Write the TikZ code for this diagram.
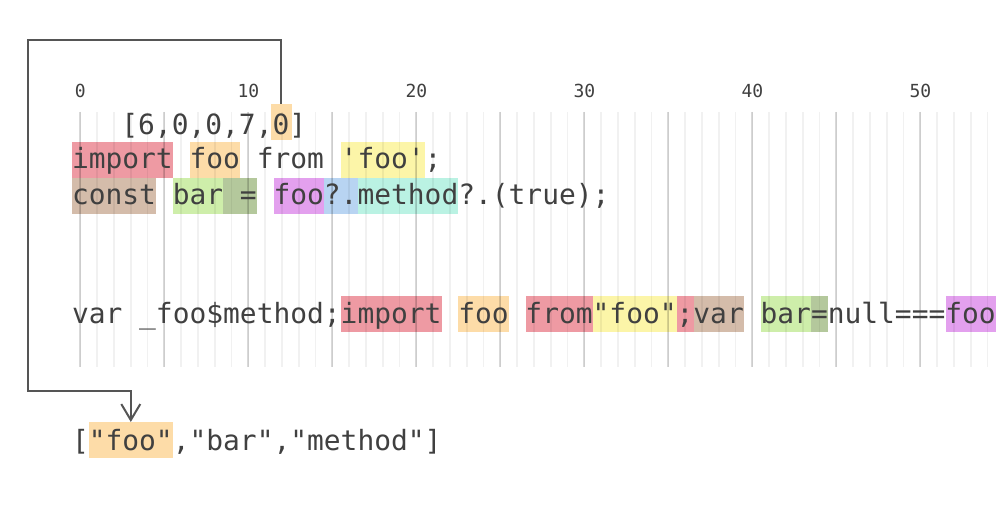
\documentclass[tikz,border=0pt]{standalone}
\usepackage{fontspec}
\setmonofont{DejaVu Sans Mono}
\usetikzlibrary{arrows.meta}
\definecolor{hred}{RGB}{238,154,163}
\definecolor{horange}{RGB}{253,220,168}
\definecolor{hyellow}{RGB}{252,245,168}
\definecolor{htan}{RGB}{212,188,170}
\definecolor{hlgreen}{RGB}{206,238,170}
\definecolor{hdgreen}{RGB}{180,200,156}
\definecolor{hpurple}{RGB}{227,160,238}
\definecolor{hblue}{RGB}{184,212,242}
\definecolor{hteal}{RGB}{186,242,227}
\definecolor{ink}{RGB}{64,64,64}
\definecolor{wire}{RGB}{85,85,85}
\tikzset{
  code/.style={inner sep=0pt, outer sep=0pt, anchor=base west, text=ink, font=\fontsize{27.9}{36}\selectfont\ttfamily},
  tick/.style={inner sep=0pt, outer sep=0pt, anchor=base, text=ink, font=\fontsize{18}{18}\selectfont\ttfamily},
  hlbox/.style={inner sep=0pt, outer sep=0pt, anchor=north west, minimum height=36pt, draw=none},
  conn/.style={draw=wire, line width=2pt, -{Straight Barb[length=16pt,width=19pt,line width=2pt]}},
  minorline/.style={draw=black, draw opacity=0.055, line width=1.5pt},
  majorline/.style={draw=black, draw opacity=0.15, line width=2pt}
}
\newcommand{\hlc}[5]{\fill[#1] ({72+16.8*#2},#4) rectangle ({72+16.8*#3},#5);}
\begin{document}
\begin{tikzpicture}[x=1pt,y=-1pt]
\useasboundingbox (0,0) rectangle (996,518);
\fill[white] (0,0) rectangle (996,518);

% highlights line 1
\hlc{hred}{0}{6}{142}{178}
\hlc{horange}{7}{10}{142}{178}
\hlc{hyellow}{16}{21}{142}{178}
% line 2
\hlc{htan}{0}{5}{178}{214}
\hlc{hlgreen}{6}{9}{178}{214}
\hlc{hdgreen}{9}{11}{178}{214}
\hlc{hpurple}{12}{15}{178}{214}
\hlc{hblue}{15}{17}{178}{214}
\hlc{hteal}{17}{23}{178}{214}
% line 3
\hlc{hred}{16}{22}{296}{332}
\hlc{horange}{23}{26}{296}{332}
\hlc{hred}{27}{31}{296}{332}
\hlc{hyellow}{31}{36}{296}{332}
\hlc{hred}{36}{37}{296}{332}
\hlc{htan}{37}{40}{296}{332}
\hlc{hlgreen}{41}{44}{296}{332}
\hlc{hdgreen}{44}{45}{296}{332}
\hlc{hpurple}{52}{55}{296}{332}

% highlighted boxes that the connector joins
\node[hlbox, fill=horange, minimum width=21.5pt] (zero) at (270.5,104) {};
\node[hlbox, fill=horange, minimum width=84pt] (namefoo) at (88.8,422) {};

% grid
\foreach \k in {0,...,54} {
  \draw[minorline] ({80.4+16.8*\k},112) -- ({80.4+16.8*\k},367);
}
\foreach \k in {0,5,...,50} {
  \draw[majorline] ({80.4+16.8*\k},112) -- ({80.4+16.8*\k},367);
}

% column labels
\foreach \k in {0,10,...,50} {
  \node[tick] (t\k) at ({80.4+16.8*\k},98) {\k};
}

% code text
\node[code] (mapping) at (121.4,135) {[6,0,0,7,0]};
\node[code] (src1) at (72,169) {import foo from 'foo';};
\node[code] (src2) at (72,205) {const bar = foo?.method?.(true);};
\node[code] (gen) at (72,324) {var \_foo\$method;import foo from"foo";var bar=null===foo};
\node[code] (names) at (72,450) {["foo","bar","method"]};

% connector
\coordinate (cA) at (28,40);
\coordinate (cB) at (28,391.5);
\draw[conn] (zero.north) |- (cA) |- (cB) -| (namefoo.north);
\end{tikzpicture}
\end{document}
